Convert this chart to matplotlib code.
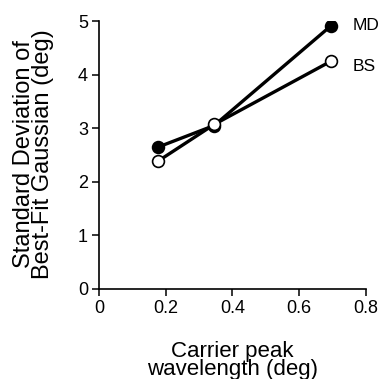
import matplotlib
matplotlib.use("Agg")
import matplotlib.pyplot as plt

plt.rcParams['font.family'] = ['Liberation Sans', 'DejaVu Sans']

wavelength = [0.178, 0.345, 0.695]
md_sd = [2.65, 3.05, 4.91]
bs_sd = [2.39, 3.07, 4.25]
series_labels = ["MD", "BS"]
xticks = [0, 0.2, 0.4, 0.6, 0.8]
xticklabels = ["0", "0.2", "0.4", "0.6", "0.8"]
yticks = [0, 1, 2, 3, 4, 5]

fig = plt.figure(figsize=(3.8, 3.79), dpi=100)
ax = fig.add_axes([0.2605, 0.2375, 0.7025, 0.707])

ax.plot(wavelength, md_sd, color='black', lw=2.4, marker='o', ms=8.5,
        mfc='black', mec='black', mew=1.2, zorder=3)
ax.plot(wavelength, bs_sd, color='black', lw=2.4, marker='o', ms=8.5,
        mfc='white', mec='black', mew=1.2, zorder=4)

ax.text(wavelength[-1] + 0.065, md_sd[-1], series_labels[0], fontsize=12.5,
        va='center', ha='left')
ax.text(wavelength[-1] + 0.065, bs_sd[-1] - 0.1, series_labels[1], fontsize=12.5,
        va='center', ha='left')

ax.set_xlim(0, 0.8)
ax.set_ylim(0, 5)
ax.set_xticks(xticks)
ax.set_xticklabels(xticklabels)
ax.set_yticks(yticks)
ax.tick_params(direction='out', length=5, width=1.1, labelsize=13, pad=3)
for s in ['top', 'right']:
    ax.spines[s].set_visible(False)
for s in ['left', 'bottom']:
    ax.spines[s].set_linewidth(1.2)

ax.set_xlabel("Carrier peak\nwavelength (deg)", fontsize=16,
              linespacing=0.85)
ax.xaxis.set_label_coords(0.5, -0.193)
ax.set_ylabel("Standard Deviation of\nBest-Fit Gaussian (deg)", fontsize=17,
              linespacing=0.85, va='center')
ax.yaxis.set_label_coords(-0.245, 0.505)

fig.savefig("out.png", dpi=100)
